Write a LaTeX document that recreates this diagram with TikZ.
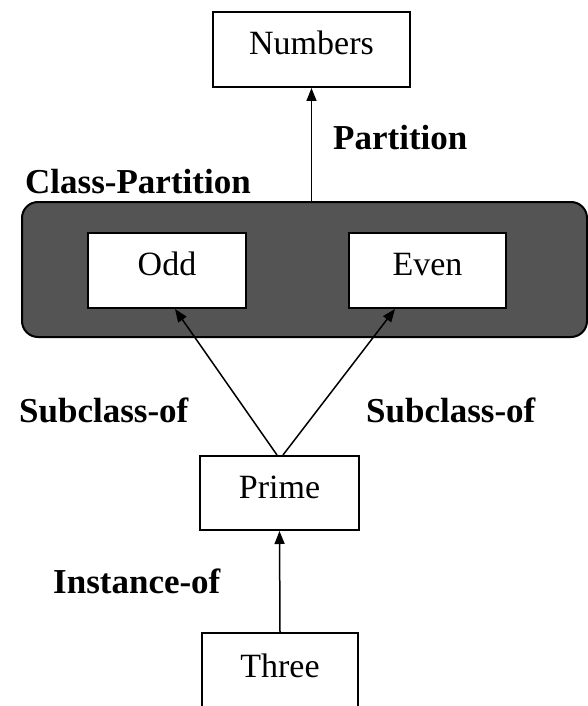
\documentclass[tikz,border=0pt]{standalone}
\usepackage{fontspec}
\setmainfont{Liberation Serif}
\usetikzlibrary{arrows.meta}
\tikzset{
  box/.style={draw=black, line width=2pt, fill=white, inner sep=0pt,
    font=\fontsize{34}{40}\selectfont, text height=23pt, text depth=13pt},
  group/.style={draw=black, line width=2pt, fill=black!67, rounded corners=16pt},
  lbl/.style={inner sep=0pt, anchor=base west, font=\fontsize{35}{40}\selectfont\bfseries},
  link/.style={line width=1.5pt, -{Triangle[length=13pt,width=10pt]}},
}
\begin{document}
\begin{tikzpicture}[x=1pt,y=-1pt]
\useasboundingbox (0,0) rectangle (588,706);

% partition container
\node[group, minimum width=565pt, minimum height=135pt] (part) at (304.5,269.5) {};

% classes
\node[box, minimum width=197pt, minimum height=75pt] (numbers) at (311.5,49.5) {Numbers};
\node[box, minimum width=158pt, minimum height=75pt] (odd) at (167,270.5) {Odd};
\node[box, minimum width=157pt, minimum height=75pt] (even) at (427.5,270.5) {Even};
\node[box, minimum width=159pt, minimum height=74pt] (prime) at (279.5,493) {Prime};
\node[box, minimum width=156pt, minimum height=79pt] (three) at (280,672.5) {Three};

% relation labels
\node[lbl] (lpart) at (333,149) {Partition};
\node[lbl] (lclass) at (25,193) {Class-Partition};
\node[lbl] (lsubl) at (19,422.5) {Subclass-of};
\node[lbl] (lsubr) at (366,422.5) {Subclass-of};
\node[lbl] (linst) at (53,593) {Instance-of};

% relations
\draw[link] (part.north -| numbers.south) -- (numbers.south);
\draw[link] ([xshift=-2.5pt]prime.north) -- ([xshift=8pt]odd.south);
\draw[link] ([xshift=3.5pt]prime.north) -- ([xshift=-32.5pt]even.south);
\draw[link] (three.north) -- (prime.south);
\end{tikzpicture}
\end{document}
